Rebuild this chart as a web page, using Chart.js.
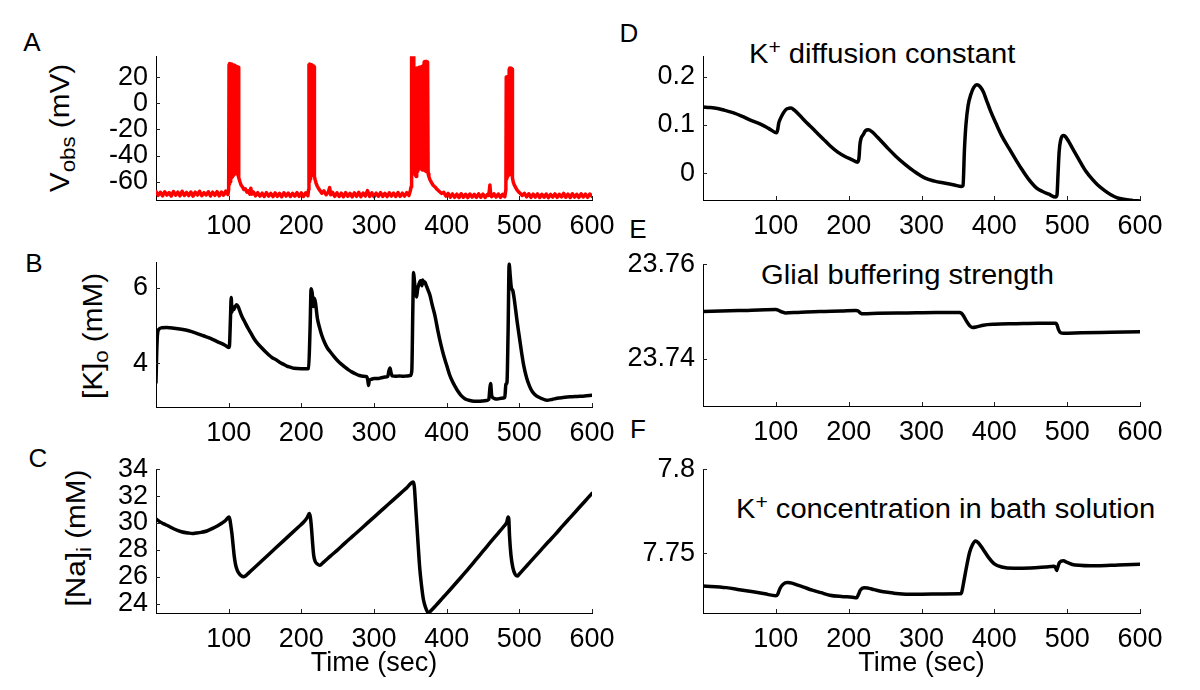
<!DOCTYPE html>
<html>
<head>
<meta charset="utf-8">
<script src="https://cdn.jsdelivr.net/npm/chart.js@4.4.1/dist/chart.umd.min.js"></script>
<style>
html,body{margin:0;padding:0;background:#fff;}
body{width:1200px;height:690px;position:relative;overflow:hidden;font-family:"Liberation Sans",Arial,Helvetica,sans-serif;color:#000;}
canvas{position:absolute;}
.lbl{position:absolute;white-space:nowrap;line-height:1;}
.letter{font-size:26px;transform:translate(-50%,-50%);}
.ytitle{font-size:27px;line-height:27px;transform:translate(-50%,-50%) rotate(-90deg) scaleX(1.1);}
.inner{font-size:27px;line-height:27px;transform-origin:0 0;transform:scaleX(1.08);}
sub{font-size:0.75em;vertical-align:-0.32em;line-height:0;}
sup{font-size:0.72em;vertical-align:0.45em;line-height:0;}
</style>
</head>
<body>
<div class="lbl letter" style="left:32px;top:42px">A</div>
<div class="lbl letter" style="left:34px;top:263px">B</div>
<div class="lbl letter" style="left:38px;top:458px">C</div>
<div class="lbl letter" style="left:629px;top:33px">D</div>
<div class="lbl letter" style="left:638px;top:229px">E</div>
<div class="lbl letter" style="left:638px;top:429px">F</div>
<div class="lbl ytitle" style="left:59.6px;top:128px">V<sub>obs</sub> (mV)</div>
<div class="lbl ytitle" style="left:92.6px;top:336px">[K]<sub>o</sub> (mM)</div>
<div class="lbl ytitle" style="left:75.6px;top:538px">[Na]<sub>i</sub> (mM)</div>
<div class="lbl inner" style="left:749px;top:41px">K<sup>+</sup> diffusion constant</div>
<div class="lbl inner" style="left:761px;top:262px">Glial buffering strength</div>
<div class="lbl inner" style="left:736px;top:496px">K<sup>+</sup> concentration in bath solution</div>
<script>
// ---------- DATA ----------
const xTickValues = [100, 200, 300, 400, 500, 600];
const yTicksA = [-60, -40, -20, 0, 20];
const yTicksB = [4, 6];
const yTicksC = [24, 26, 28, 30, 32, 34];
const yTicksD = [0, 0.1, 0.2];
const yTicksE = [23.74, 23.76];
const yTicksF = [7.75, 7.8];

// Panel A: observed membrane voltage, [time (s), mV]
const voltageA = [
 [0,-67.6],[3,-70.4],[6,-68.1],[9,-70.8],[12,-67.7],[15,-70.2],[18,-68.3],[21,-70.9],[24,-67.5],[27,-70.3],
 [30,-68.0],[33,-70.8],[36,-67.4],[39,-70.5],[42,-68.2],[45,-70.6],[48,-67.9],[51,-71.0],[54,-68.0],[57,-70.2],
 [60,-67.3],[63,-70.7],[66,-68.4],[69,-70.1],[72,-67.7],[75,-70.9],[78,-68.0],[81,-70.4],[84,-67.6],[87,-70.8],
 [90,-67.9],[93,-70.3],[96,-67.2],[99,-69.8],
 [100,-66],[100.5,29.5],[101,-62],[101.5,30.5],[102,-60],[102.5,30],[103,-58],[103.5,30],[104,-57],[104.5,29.5],
 [105,-56],[105.5,29.5],[106,-55],[106.5,29],[107,-55],[107.5,29],[108,-54],[108.5,28.5],[109,-54],[109.5,28.5],
 [110,-54],[110.5,28],[111,-53],[111.5,28],[112,-54],[112.5,27.5],[113,-55],[113.5,27.5],
 [114.2,-57],[115.5,-60],[117,-62.5],[119,-64],[121,-66],[123,-65.5],[125,-68],[127,-67],[129,-69.5],[130.5,-65],
 [132,-69.5],[134,-67.8],[137,-70.8],
 [140,-68.4],[143,-71.0],[146,-68.8],[149,-71.3],[152,-68.4],[155,-71.0],[158,-69.0],[161,-71.4],[164,-68.6],[167,-71.2],
 [170,-68.9],[173,-71.5],[176,-68.5],[179,-71.0],[182,-68.7],[185,-71.3],[188,-68.9],[191,-71.1],[194,-68.4],[197,-71.2],
 [200,-68.6],[203,-71.3],[206,-68.5],[209,-70.8],
 [210,-66],[210.5,29.5],[211,-60],[211.5,30],[212,-58],[212.5,29.5],[213,-56],[213.5,29.5],[214,-55],[214.5,29],
 [215,-55],[215.5,28.5],[216,-54],[216.5,28.5],[217,-55],[217.5,28],[218,-56],
 [219,-58.5],[220.5,-61.5],[222,-63.5],[224,-65.5],[226,-67],[228,-68.8],[231,-67],[234,-70],[237,-68],[239,-64.5],
 [240.5,-70],[243,-68.2],[246,-71.2],
 [249,-68.5],[252,-71.3],[255,-68.8],[258,-71.5],[261,-68.4],[264,-71.1],[267,-68.9],[270,-71.6],[273,-68.6],[276,-71.2],
 [279,-68.2],[282,-71.4],[285,-68.7],[288,-71.0],[291,-66.8],[294,-71.3],[297,-68.5],[300,-71.5],[303,-68.8],[306,-71.1],
 [309,-68.4],[312,-71.3],[315,-68.9],[318,-71.4],[321,-68.5],[324,-71.0],[327,-68.7],[330,-71.3],[333,-68.3],[336,-71.2],
 [339,-68.8],[342,-71.0],[345,-68.4],[348,-70.6],
 [350,-67],[351,-64],[351.5,40],[352,-50],[352.5,40],[353,-48],[353.5,40],[354,-50],[354.5,36],[355,-52],
 [356,-54],[357,-55],[358,-56],[358.5,-55],[359,27],[359.5,-52],[360,27],[360.5,-51],[361,27],[361.5,-50],
 [362,27.5],[362.5,-50],[363,27.5],[363.5,-50],[364,27.5],[364.5,-50],[365,28],[365.5,-50],[366,28],[366.5,-51],
 [367,28.5],[367.5,-51],[368,29],[368.5,-51],[369,31.5],[369.5,-51],[370,32],[370.5,-51],[371,32],[371.5,-52],
 [372,32],[372.5,-52],[373,31.5],[373.5,-53],[374,31],[374.5,-54],
 [375.5,-56],[377,-58.5],[379,-60.5],[381,-62.5],[384,-64],[387,-66],[390,-67.5],[393,-69],[396,-68.2],[399,-71],
 [402,-69.0],[405,-71.8],[408,-69.3],[411,-72.0],[414,-69.5],[417,-72.1],[420,-69.2],[423,-71.9],[426,-69.6],[429,-72.2],
 [432,-69.4],[435,-71.8],[438,-69.7],[441,-72.0],[444,-69.3],[447,-71.9],[450,-69.5],[453,-72.1],[456,-69.8],
 [458,-70.5],[459.5,-62.5],[460.5,-69.5],[462,-71.5],[465,-69.2],[468,-71.8],[471,-69.4],[474,-72],[477,-69.6],[480,-71.5],
 [481.5,-66],[482,20],[482.5,-58],[483,20],[483.5,-56],[484,20.5],[484.5,-55],[485,20],[485.5,-55],[486,26],
 [486.5,-54],[487,27],[487.5,-54],[488,27],[488.5,-54],[489,26.5],[489.5,-55],[490,26],[490.5,-57],
 [491.5,-60],[493,-62.5],[495,-64.5],[497,-66.5],[499,-67.8],[501,-68.8],[504,-70.5],[507,-68.9],
 [510,-71.6],[513,-69.2],[516,-72.0],[519,-69.5],[522,-71.8],[525,-69.3],[528,-72.1],[531,-69.6],[534,-71.9],[537,-69.4],
 [540,-72.2],[543,-69.7],[546,-71.8],[549,-69.3],[552,-72.0],[555,-69.6],[558,-71.7],[561,-69.0],[564,-71.9],[567,-69.5],
 [570,-72.1],[573,-69.2],[576,-71.8],[579,-69.6],[582,-72.0],[585,-69.3],[588,-71.7],[591,-69.5],[594,-72.0],[597,-69.4],
 [600,-71.2]
];

// Panel B: extracellular potassium [K]o (mM)
const timeB = [0,1,2,4,8,15,25,35,45,55,65,75,85,95,100,101,102.5,103.5,104.5,105.5,107,109,111,113,115,118,122,126,130,135,140,145,150,155,160,165,170,175,180,185,190,200,207,210,212,213.5,215,216.5,218,219.5,222,225,228,232,236,240,245,250,255,260,265,270,275,280,285,290,291.5,292.5,293.5,296,300,305,310,315,319,320.5,322,323.5,325,330,335,340,345,350,352,353.5,354.5,355.5,357,358.5,360,362,364,366,367,368.5,370,372,374,377,380,384,388,392,396,400,404,408,412,416,420,425,430,435,440,445,450,455,458,459.5,460.5,462,465,470,475,480,481.5,483,484.5,486,487.5,489,491,493,495,497,500,503,506,510,514,518,523,530,538,545,552,560,570,580,590,600];
const kOutB = [3.5,4.3,4.75,4.9,4.94,4.95,4.93,4.9,4.86,4.8,4.73,4.66,4.57,4.48,4.42,4.45,5.2,5.74,5.35,5.5,5.42,5.5,5.55,5.5,5.4,5.25,5.1,4.95,4.82,4.65,4.52,4.42,4.32,4.23,4.15,4.1,4.03,3.98,3.93,3.9,3.87,3.86,3.86,3.87,4.9,5.97,5.85,5.5,5.72,5.6,5.2,4.95,4.75,4.55,4.4,4.3,4.18,4.07,3.98,3.9,3.83,3.77,3.72,3.68,3.66,3.65,3.55,3.42,3.55,3.58,3.6,3.6,3.62,3.64,3.66,3.8,3.88,3.75,3.67,3.66,3.67,3.66,3.67,3.68,3.8,5.5,6.4,6.2,5.9,5.75,5.95,6.1,6.18,6.05,6.2,6.12,6.15,6.05,5.95,5.8,5.55,5.25,4.85,4.5,4.2,3.95,3.7,3.52,3.38,3.25,3.15,3.07,3.03,3.01,3.0,3.0,3.01,3.02,3.05,3.35,3.47,3.15,3.08,3.06,3.08,3.1,3.45,3.5,4.8,6.62,6.3,6.0,5.92,5.7,5.4,5.1,4.7,4.3,3.95,3.62,3.4,3.25,3.15,3.08,3.03,3.05,3.08,3.1,3.12,3.13,3.14,3.16];

// Panel C: intracellular sodium [Na]i (mM)
const timeC = [0,5,10,17,25,35,45,50,55,62,70,78,85,91,96,100.3,101.5,103,104.5,106,107.5,109.5,112,115,118,120,123,127,135,145,154,165,175,185,196,203,208,211,212.5,214,215.5,217,219,222,225.5,230,240,250,260,270,280,290,302,315,325,335,345,354,355.5,357.6,360,363,365.5,368,371,375,378,385,395,405,418,430,440,450,460,471,478,483,484.5,485.5,486.5,488.5,491,494,497,500,510,520,530,540,549.5,560,570,580,590,600];
const naInC = [30.3,30.1,29.95,29.77,29.55,29.35,29.25,29.22,29.25,29.3,29.4,29.6,29.8,30.0,30.2,30.45,30.3,29.8,29.2,28.4,27.6,26.9,26.45,26.2,26.05,26.0,26.05,26.25,26.65,27.15,27.6,28.15,28.65,29.15,29.7,30.05,30.4,30.7,30.4,29.6,28.5,27.6,27.15,26.95,26.85,27.05,27.53,28.0,28.5,28.98,29.46,29.95,30.53,31.16,31.64,32.13,32.61,33.05,32.7,31.0,29.0,26.6,25.3,24.3,23.7,23.3,23.45,23.85,24.45,25.05,25.85,26.6,27.25,27.9,28.55,29.25,29.7,30.1,30.45,30.3,29.05,27.6,26.7,26.2,26.05,26.2,26.8,27.4,28.0,28.6,29.15,29.8,30.4,31.0,31.6,32.2];

// Panel D: K+ diffusion constant
const timeD = [0,10,20,30,42,55,65,79,90,101,102.5,104,106,110,114,118,121,125,132,140,147,155,165,174,185,195,205,212,214,215.5,217,220,223,227,232,240,252.5,265,278.7,290,305,318,331,345,355,357,359,361,364,368,372,376,380,385,389,395,402,410,420,430,437,447,457.7,467,475,484,486,487.5,489,491,494.5,497,502,508,515.6,525,535,542,552,560,568,580,590,600];
const diffD = [0.137,0.136,0.134,0.13,0.125,0.117,0.11,0.1016,0.093,0.084,0.09,0.104,0.112,0.124,0.132,0.1345,0.135,0.131,0.121,0.108,0.098,0.086,0.071,0.0576,0.044,0.035,0.028,0.023,0.03,0.06,0.072,0.08,0.088,0.09,0.086,0.074,0.054,0.035,0.017,0.004,-0.01,-0.016,-0.02,-0.024,-0.027,-0.025,0.05,0.1,0.14,0.164,0.178,0.183,0.18,0.168,0.152,0.128,0.104,0.078,0.052,0.027,0.01,-0.012,-0.03,-0.038,-0.043,-0.049,-0.045,0.0,0.045,0.068,0.078,0.077,0.066,0.05,0.03,0.006,-0.013,-0.024,-0.036,-0.044,-0.05,-0.054,-0.056,-0.057];

// Panel E: glial buffering strength
const timeE = [0,50,100,103,108,113,130,160,190,210,213,216,220,240,280,320,352,355,358,362,366,370,375,385,400,430,460,484,486,488,491,495,520,560,600];
const glialE = [23.75,23.7502,23.7504,23.7503,23.7499,23.7497,23.7498,23.75,23.7501,23.7502,23.7501,23.7497,23.7495,23.7496,23.7497,23.7498,23.7498,23.7496,23.749,23.7479,23.747,23.7466,23.7467,23.7471,23.7473,23.7474,23.7475,23.7475,23.7472,23.7462,23.7455,23.7454,23.7455,23.7456,23.7457];

// Panel F: K+ concentration in bath solution
const timeF = [0,32,50,68.8,85,100,102.5,105.7,110,116,122,130,137,150,162,174,190,205,211,213.5,216,221,226,235,247.7,262,279,300,330,352.8,355,358,361,366,370,374,378,384.5,392,400,410,426.5,450,470,481.8,484,485.5,487,489.6,494.8,500,510.7,542,570,600];
const bathF = [7.7305,7.7295,7.7283,7.727,7.7258,7.7247,7.7255,7.729,7.7315,7.7325,7.7322,7.731,7.73,7.728,7.7265,7.725,7.7242,7.7238,7.7235,7.7255,7.728,7.7295,7.7293,7.7283,7.727,7.7262,7.7256,7.7256,7.7257,7.7258,7.7265,7.7329,7.74,7.7504,7.755,7.7573,7.7562,7.7524,7.7475,7.7436,7.7418,7.741,7.7412,7.7418,7.7422,7.7415,7.7397,7.7415,7.7446,7.7455,7.7445,7.743,7.7425,7.743,7.7434];

// ---------- LAYOUT / STYLE ----------
Chart.defaults.font.family = '"Liberation Sans", Arial, Helvetica, sans-serif';
Chart.defaults.color = '#000';

function zip(t, v){ const n = Math.min(t.length, v.length); const out = []; for(let i=0;i<n;i++) out.push({x:t[i], y:v[i]}); return out; }

const panels = [
  {box:[156,592,52,200],  y:[-74,36],        ticks:yTicksA, data:voltageA.map(p=>({x:p[0],y:p[1]})), color:'#ff0000', lw:3.5, smooth:false, xTitle:''},
  {box:[156,592,258,407], y:[2.85,6.67],     ticks:yTicksB, data:zip(timeB,kOutB),  color:'#000', lw:3.5, smooth:true, xTitle:''},
  {box:[156,592,465,613], y:[23.3,34],       ticks:yTicksC, data:zip(timeC,naInC),  color:'#000', lw:3.5, smooth:true, xTitle:'Time (sec)'},
  {box:[703,1140,52,200], y:[-0.055,0.242],  ticks:yTicksD, data:zip(timeD,diffD),  color:'#000', lw:3.5, smooth:true, xTitle:''},
  {box:[703,1140,260,406],y:[23.730,23.760], ticks:yTicksE, data:zip(timeE,glialE), color:'#000', lw:3.5, smooth:true, xTitle:''},
  {box:[703,1140,465,613],y:[7.7144,7.8],    ticks:yTicksF, data:zip(timeF,bathF),  color:'#000', lw:3.5, smooth:true, xTitle:'Time (sec)'}
];

const inwardTicks = {
  id:'inwardTicks',
  afterDraw(chart){
    const ctx = chart.ctx, xs = chart.scales.x, ys = chart.scales.y, a = chart.chartArea;
    ctx.save();
    ctx.strokeStyle = '#222'; ctx.lineWidth = 1;
    ctx.beginPath();
    xs.ticks.forEach(t => { const x = Math.round(xs.getPixelForValue(t.value)) + 0.5; ctx.moveTo(x, a.bottom); ctx.lineTo(x, a.bottom - 4); });
    ys.ticks.forEach(t => { const y = Math.round(ys.getPixelForValue(t.value)) + 0.5; ctx.moveTo(a.left, y); ctx.lineTo(a.left + 4, y); });
    ctx.stroke();
    ctx.restore();
  }
};

panels.forEach(p => {
  const padL = 95, padT = 20, padR = 45;
  const xh = p.xTitle ? 72 : 45;
  const w = p.box[1] - p.box[0] + padL + padR;
  const h = p.box[3] - p.box[2] + padT + xh;
  const c = document.createElement('canvas');
  c.width = w; c.height = h;
  c.style.left = (p.box[0] - padL) + 'px';
  c.style.top = (p.box[2] - padT) + 'px';
  c.style.width = w + 'px'; c.style.height = h + 'px';
  document.body.appendChild(c);
  new Chart(c, {
    type: 'line',
    data: { datasets: [{
      data: p.data, borderColor: p.color, borderWidth: p.lw, pointRadius: 0, fill: false,
      tension: 0, cubicInterpolationMode: p.smooth ? 'monotone' : 'default',
      borderJoinStyle: 'round', borderCapStyle: 'round'
    }]},
    options: {
      responsive: false, animation: false, devicePixelRatio: 1,
      layout: { padding: { left: 0, top: padT, right: padR, bottom: 0 } },
      plugins: { legend: { display: false }, tooltip: { enabled: false } },
      scales: {
        x: {
          type: 'linear', position: 'bottom', min: 0, max: 600,
          afterFit: s => { s.height = xh; },
          afterBuildTicks: s => { s.ticks = xTickValues.map(v => ({ value: v })); },
          grid: { display: false, drawTicks: false },
          border: { display: true, color: '#000', width: 1 },
          ticks: { autoSkip: false, maxRotation: 0, padding: 10, color: '#000', font: { size: 27 }, callback: v => String(v) },
          title: { display: !!p.xTitle, text: p.xTitle, color: '#000', font: { size: 27 }, padding: { top: 0, bottom: 5 } }
        },
        y: {
          type: 'linear', position: 'left', min: p.y[0], max: p.y[1],
          afterFit: s => { s.width = padL; },
          afterBuildTicks: s => { s.ticks = p.ticks.map(v => ({ value: v })); },
          grid: { display: false, drawTicks: false },
          border: { display: true, color: '#000', width: 1 },
          ticks: { autoSkip: false, padding: 8, color: '#000', font: { size: 27 }, callback: v => String(v) }
        }
      }
    },
    plugins: [inwardTicks]
  });
});
</script>
</body>
</html>
